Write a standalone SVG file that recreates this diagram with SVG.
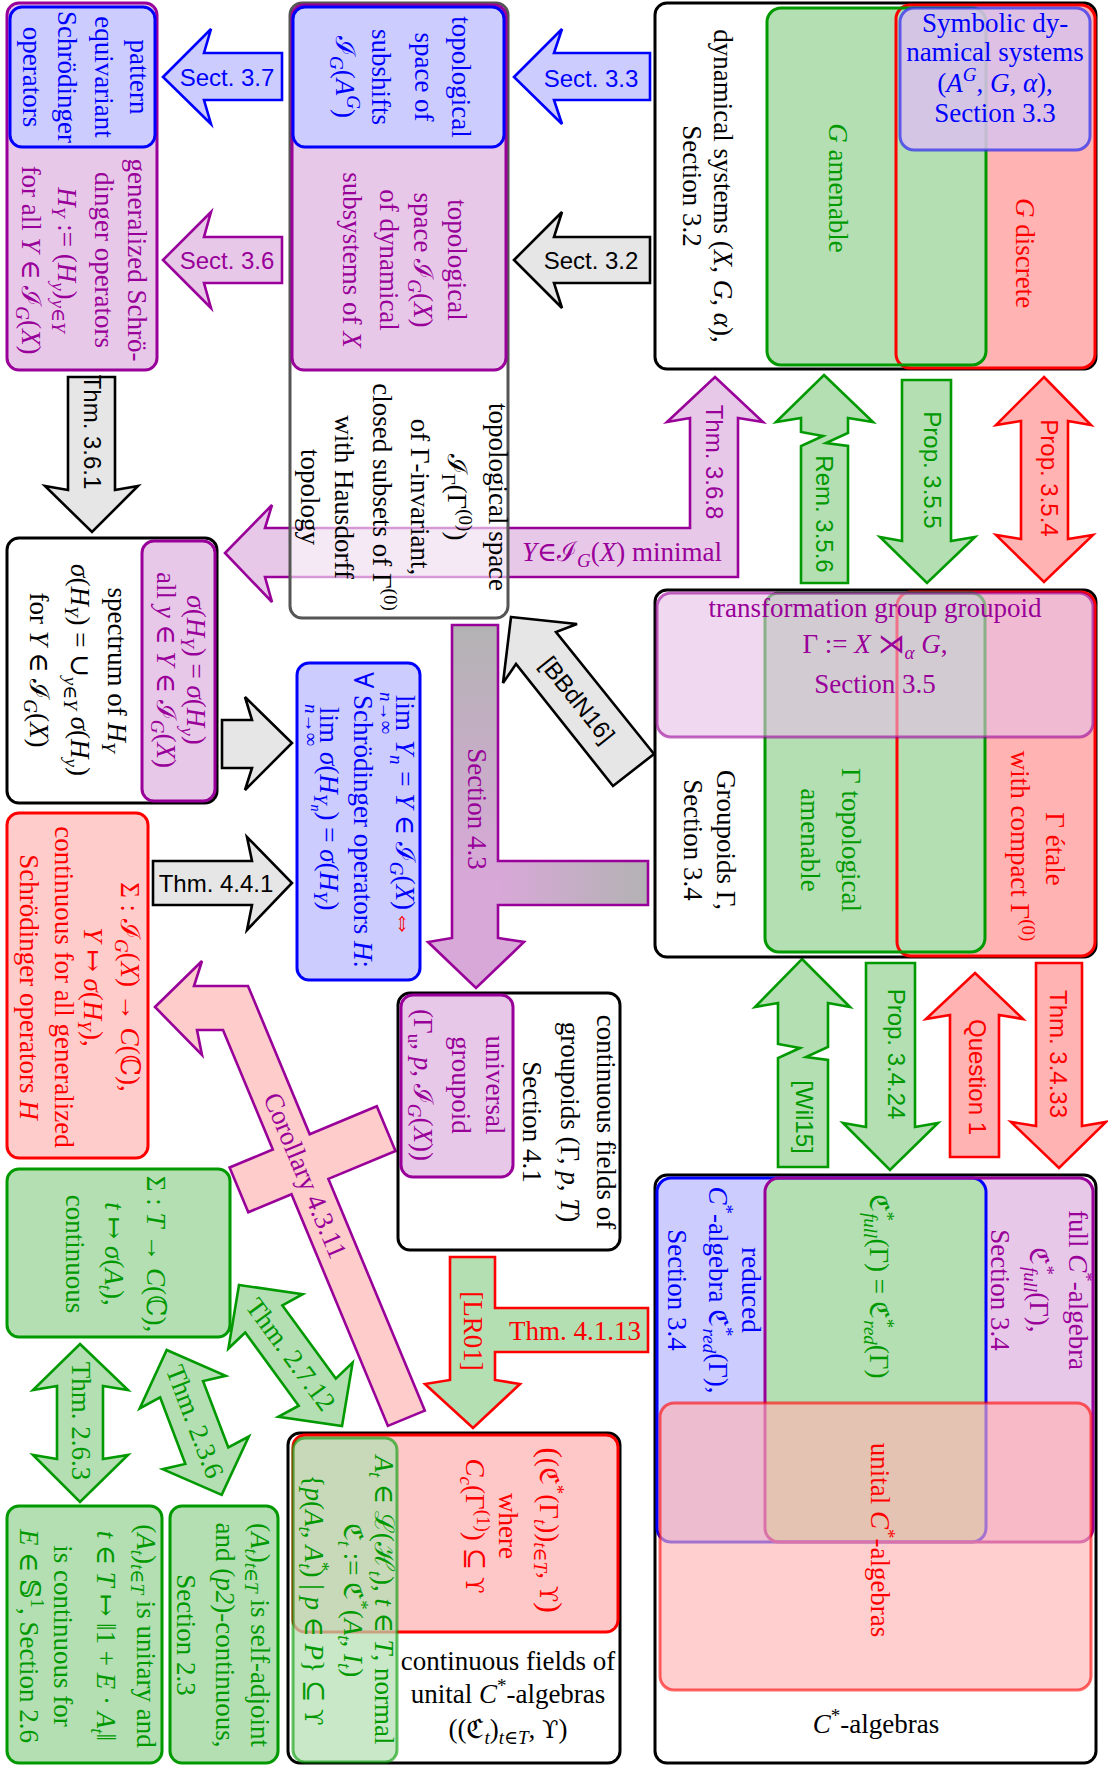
<svg xmlns="http://www.w3.org/2000/svg" width="1108" height="1767" viewBox="0 0 1108 1767">
<style>
text{font-family:"Liberation Serif","DejaVu Serif",serif;font-size:27px}
.ss{font-family:"Liberation Sans","DejaVu Sans",sans-serif;font-size:24px}
.c{text-anchor:middle}
.i{font-style:italic}
.s{font-size:19px}
.u{font-family:"DejaVu Serif",serif;font-size:24px}
.bl{fill:#0000ff}.pu{fill:#990099}.gr{fill:#009900}.rd{fill:#ff0000}
.kb{fill:#fff;stroke:#000;stroke-width:3}
.bb{fill:#ccccff;stroke:#0000ff;stroke-width:3}
.pb{fill:#e8c8e8;stroke:#990099;stroke-width:3}
.gb{fill:#b3dfb3;stroke:#009900;stroke-width:3}
.rl{fill:#ffcccc;stroke:#ff0000;stroke-width:3}
.ag{fill:#e6e6e6;stroke:#000;stroke-width:2.6}
.ab{fill:#ccccff;stroke:#0000ff;stroke-width:2.6}
.ap{fill:#e8c8e8;stroke:#990099;stroke-width:2.6}
.agr{fill:#b3dfb3;stroke:#009900;stroke-width:2.6}
.ar{fill:#ffb3b3;stroke:#ff0000;stroke-width:2.6}
</style>
<defs>
<linearGradient id="gv" gradientUnits="userSpaceOnUse" x1="0" y1="625" x2="0" y2="880"><stop offset="0" stop-color="#b3b3b3"/><stop offset="1" stop-color="#d8a8d8"/></linearGradient>
<linearGradient id="gh" gradientUnits="userSpaceOnUse" x1="498" y1="0" x2="648" y2="0"><stop offset="0" stop-color="#d8a8d8"/><stop offset="1" stop-color="#b3b3b3"/></linearGradient>
</defs>
<rect width="1108" height="1767" fill="#fff"/>

<g id="connectors">
<polygon class="ab" points="163,77 211,29 204,53 282,53 282,100 204,100 211,124"/>
<text class="ss c bl" x="227" y="86">Sect. 3.7</text>
<polygon class="ap" points="163,260 211,212 204,237 282,237 282,283 204,283 211,308"/>
<text class="ss c pu" x="227" y="269">Sect. 3.6</text>
<polygon class="ab" points="514,77 562,29 554,53 650,53 650,100 554,100 562,124"/>
<text class="ss c bl" x="591" y="87">Sect. 3.3</text>
<polygon class="ag" points="514,260 562,212 554,237 650,237 650,283 554,283 562,308"/>
<text class="ss c" x="591" y="269">Sect. 3.2</text>

<polygon class="ag" points="68,377 115,377 115,490 138,486 92,532 45,486 68,490"/>
<text class="ss c" transform="translate(84,432) rotate(90)">Thm. 3.6.1</text>

<polygon class="ap" points="715,377 763,422 738,418 738,577 265,577 272,602 225,553 272,505 265,528 690,528 690,418 667,422"/>
<text class="ss c pu" transform="translate(706,462) rotate(90)">Thm. 3.6.8</text>
<text class="c pu" x="622" y="561"><tspan class="i">Y</tspan>∈ℐ<tspan class="s i" dy="6">G</tspan><tspan dy="-6">(</tspan><tspan class="i">X</tspan>) minimal</text>

<polygon class="agr" points="824,375 873,422 848,418 848,433 826,443 848,446 848,583 801,583 801,446 823,436 801,432 801,418 776,422"/>
<text class="ss c gr" transform="translate(816,514) rotate(90)">Rem. 3.5.6</text>

<polygon class="agr" points="902,380 951,380 951,541 975,537 927,583 880,537 902,541"/>
<text class="ss c gr" transform="translate(924,470) rotate(90)">Prop. 3.5.5</text>

<polygon class="ar" points="1044,377 1091,425 1068,421 1068,539 1093,535 1044,582 996,535 1021,539 1021,421 996,425"/>
<text class="ss c rd" transform="translate(1041,478) rotate(90)">Prop. 3.5.4</text>

<polygon class="ag" points="222,720 252,720 245,697 292,743 245,790 252,768 222,768"/>

<polygon class="ag" points="153,861 252,861 247,837 292,883 247,930 252,905 153,905"/>
<text class="ss c" x="216" y="892">Thm. 4.4.1</text>

<polygon fill="url(#gv)" points="452,625 498,625 498,938 524,942 476,988 428,942 452,938"/>
<rect x="497" y="861" width="151" height="44" fill="url(#gh)"/>
<path d="M452,625 L498,625 L498,861 L648,861 L648,905 L498,905 L498,938 L524,942 L476,988 L428,942 L452,938 Z" fill="none" stroke="#990099" stroke-width="2.6"/>
<text class="c pu" transform="translate(468,809) rotate(90)">Section 4.3</text>

<polygon class="ag" points="511,617 577,624 556,632 654,754 613,786 516,664 503,683"/>
<text class="ss c" transform="translate(571,705) rotate(51.4)">[BBdN16]</text>

<polygon points="155,1007 202,961 194,986 248,986 309.7,1134.2 376.8,1106.3 395.5,1151 328.4,1178.9 424.8,1410.6 387.9,1425.9 291.5,1194.2 248.3,1212.2 229.6,1167.5 272.8,1149.5 223,1030 197,1030 202,1055" fill="#ffcccc" stroke="#990099" stroke-width="2.6"/>
<text class="c pu" transform="translate(297,1179) rotate(67.4)">Corollary 4.3.11</text>

<polygon class="agr" points="802,959 850,1007 828,1003 828,1047 806,1057 828,1060 828,1167 778,1167 778,1058 800,1048 778,1044 778,1003 755,1007"/>
<text class="ss c gr" transform="translate(796,1117) rotate(90)">[Wil15]</text>

<polygon class="agr" points="866,963 915,963 915,1127 938,1123 890,1170 843,1123 866,1127"/>
<text class="ss c gr" transform="translate(888,1054) rotate(90)">Prop. 3.4.24</text>

<polygon class="ar" points="975,973 1023,1019 999,1015 999,1157 950,1157 950,1015 926,1019"/>
<text class="ss c rd" transform="translate(969,1077) rotate(90)">Question 1</text>

<polygon class="ar" points="1036,963 1082,963 1082,1126 1106,1122 1059,1168 1011,1122 1036,1126"/>
<text class="ss c rd" transform="translate(1050,1054) rotate(90)">Thm. 3.4.33</text>

<polygon points="450,1257 495,1257 495,1308 648,1308 648,1352 495,1352 495,1380 520,1384 473,1428 425,1384 450,1380" fill="#b3dfb3" stroke="#ff0000" stroke-width="2.6"/>
<text class="c rd" transform="translate(464,1331) rotate(90)">[LR01]</text>
<text class="c rd" x="575" y="1340">Thm. 4.1.13</text>

<polygon class="agr" points="80,1344 128,1390 103,1386 103,1459 128,1455 80,1502 33,1455 57,1459 57,1386 33,1390"/>
<text class="c gr" transform="translate(72,1421) rotate(90)">Thm. 2.6.3</text>

<polygon class="agr" points="166.7,1350 225.7,1375.8 203.1,1381.1 228.3,1447.5 248.8,1436.5 221.7,1494.9 162.7,1469.2 185.3,1463.9 160.1,1397.4 139.7,1408.4"/>
<text class="c gr" transform="translate(186.5,1424.8) rotate(69.2)">Thm. 2.3.6</text>

<polygon class="agr" points="239,1285 302.7,1294.2 282.4,1305.4 335.8,1378.6 352.6,1362.6 342,1426.1 278.3,1416.8 298.7,1405.7 245.2,1332.5 228.4,1348.5"/>
<text class="c gr" transform="translate(283.5,1359.7) rotate(53.8)">Thm. 2.7.12</text>
</g>

<g id="n-schroedinger">
<rect x="7" y="3" width="150" height="367" rx="12" class="pb"/>
<rect x="10" y="7" width="145" height="140" rx="12" class="bb"/>
<text class="c bl" transform="translate(130,77) rotate(90)">pattern</text>
<text class="c bl" transform="translate(95,77) rotate(90)">equivariant</text>
<text class="c bl" transform="translate(58,77) rotate(90)">Schrödinger</text>
<text class="c bl" transform="translate(23,77) rotate(90)">operators</text>
<text class="c pu" transform="translate(128,260) rotate(90)">generalized Schrö-</text>
<text class="c pu" transform="translate(95,260) rotate(90)">dinger operators</text>
<text class="c pu" transform="translate(58,260) rotate(90)"><tspan class="i">H</tspan><tspan class="s i" dy="6">Y</tspan><tspan dy="-6"> := (</tspan><tspan class="i">H</tspan><tspan class="s i" dy="6">y</tspan><tspan dy="-6">)</tspan><tspan class="s" dy="6"><tspan class="i">y</tspan>∈<tspan class="i">Y</tspan></tspan></text>
<text class="c pu" transform="translate(22,260) rotate(90)">for all <tspan class="i">Y</tspan> ∈ ℐ<tspan class="s i" dy="6">G</tspan><tspan dy="-6">(</tspan><tspan class="i">X</tspan>)</text>
</g>

<g id="n-subsystems">
<rect x="290" y="3" width="218" height="615" rx="12" fill="#fff" fill-opacity="0.6" stroke="#555" stroke-width="3"/>
<rect x="292" y="5" width="214" height="365" rx="12" class="pb"/>
<rect x="293" y="7" width="211" height="140" rx="12" class="bb"/>
<text class="c bl" transform="translate(452,77) rotate(90)">topological</text>
<text class="c bl" transform="translate(415,77) rotate(90)">space of</text>
<text class="c bl" transform="translate(372,77) rotate(90)">subshifts</text>
<text class="c bl" transform="translate(336,77) rotate(90)">ℐ<tspan class="s i" dy="6">G</tspan><tspan dy="-6">(</tspan><tspan class="i">A</tspan><tspan class="s i" dy="-11">G</tspan><tspan dy="11">)</tspan></text>
<text class="c pu" transform="translate(448,260) rotate(90)">topological</text>
<text class="c pu" transform="translate(414,260) rotate(90)">space ℐ<tspan class="s i" dy="6">G</tspan><tspan dy="-6">(</tspan><tspan class="i">X</tspan>)</text>
<text class="c pu" transform="translate(380,260) rotate(90)">of dynamical</text>
<text class="c pu" transform="translate(343,260) rotate(90)">subsystems of <tspan class="i">X</tspan></text>
<text class="c" transform="translate(489,497) rotate(90)">topological space</text>
<text class="c" transform="translate(448,497) rotate(90)">ℐ<tspan class="s" dy="6">Γ</tspan><tspan dy="-6">(Γ</tspan><tspan class="s" dy="-11">(0)</tspan><tspan dy="11">)</tspan></text>
<text class="c" transform="translate(411,497) rotate(90)">of Γ-invariant,</text>
<text class="c" transform="translate(373,497) rotate(90)">closed subsets of Γ<tspan class="s" dy="-11">(0)</tspan></text>
<text class="c" transform="translate(335,497) rotate(90)">with Hausdorff</text>
<text class="c" transform="translate(301,497) rotate(90)">topology</text>
</g>

<g id="n-dynamical">
<rect x="655" y="3" width="441" height="366" rx="12" class="kb"/>
<rect x="896" y="5" width="199" height="363" rx="14" fill="#ffb3b3"/>
<rect x="767" y="8" width="219" height="357" rx="14" fill="#b3dfb3"/>
<rect x="896" y="5" width="199" height="363" rx="14" fill="none" stroke="#ff0000" stroke-width="3"/>
<rect x="767" y="8" width="219" height="357" rx="14" fill="none" stroke="#009900" stroke-width="3"/>
<rect x="900" y="8" width="190" height="142" rx="14" fill="#d9c2ea" fill-opacity="0.88" stroke="#3333ee" stroke-opacity="0.75" stroke-width="3"/>
<text class="c" transform="translate(714,186) rotate(90)">dynamical systems (<tspan class="i">X</tspan>, <tspan class="i">G</tspan>, <tspan class="i">α</tspan>),</text>
<text class="c" transform="translate(683,186) rotate(90)">Section 3.2</text>
<text class="c gr" transform="translate(829,188) rotate(90)"><tspan class="i">G</tspan> amenable</text>
<text class="c rd" transform="translate(1016,253) rotate(90)"><tspan class="i">G</tspan> discrete</text>
<text class="c bl" x="995" y="32">Symbolic dy-</text>
<text class="c bl" x="995" y="61">namical systems</text>
<text class="c bl" x="995" y="92">(<tspan class="i">A</tspan><tspan class="s i" dy="-11">G</tspan><tspan dy="11">, </tspan><tspan class="i">G</tspan>, <tspan class="i">α</tspan>),</text>
<text class="c bl" x="995" y="122">Section 3.3</text>
</g>

<g id="n-spectrum">
<rect x="7" y="538" width="210" height="265" rx="12" class="kb"/>
<rect x="142" y="541" width="73" height="260" rx="12" class="pb"/>
<text class="c pu" transform="translate(187,670) rotate(90)"><tspan class="i">σ</tspan>(<tspan class="i">H</tspan><tspan class="s i" dy="6">Y</tspan><tspan dy="-6">) = </tspan><tspan class="i">σ</tspan>(<tspan class="i">H</tspan><tspan class="s i" dy="6">y</tspan><tspan dy="-6">)</tspan></text>
<text class="c pu" transform="translate(157,670) rotate(90)">all <tspan class="i">y</tspan> ∈ <tspan class="i">Y</tspan> ∈ ℐ<tspan class="s i" dy="6">G</tspan><tspan dy="-6">(</tspan><tspan class="i">X</tspan>)</text>
<text class="c" transform="translate(108,670) rotate(90)">spectrum of <tspan class="i">H</tspan><tspan class="s i" dy="6">Y</tspan></text>
<text class="c" transform="translate(71,670) rotate(90)"><tspan class="i">σ</tspan>(<tspan class="i">H</tspan><tspan class="s i" dy="6">Y</tspan><tspan dy="-6">) = ∪</tspan><tspan class="s" dy="7"><tspan class="i">y</tspan>∈<tspan class="i">Y</tspan></tspan><tspan dy="-7"> </tspan><tspan class="i">σ</tspan>(<tspan class="i">H</tspan><tspan class="s i" dy="6">y</tspan><tspan dy="-6">)</tspan></text>
<text class="c" transform="translate(30,670) rotate(90)">for <tspan class="i">Y</tspan> ∈ ℐ<tspan class="s i" dy="6">G</tspan><tspan dy="-6">(</tspan><tspan class="i">X</tspan>)</text>
</g>

<g id="n-groupoids">
<rect x="655" y="590" width="441" height="367" rx="12" class="kb"/>
<rect x="897" y="592" width="198" height="364" rx="14" fill="#ffb3b3"/>
<rect x="765" y="593" width="220" height="359" rx="14" fill="#b3dfb3"/>
<rect x="897" y="592" width="198" height="364" rx="14" fill="none" stroke="#ff0000" stroke-width="3"/>
<rect x="765" y="593" width="220" height="359" rx="14" fill="none" stroke="#009900" stroke-width="3"/>
<rect x="657" y="593" width="436" height="144" rx="14" fill="#e6bfe6" fill-opacity="0.6" stroke="#990099" stroke-opacity="0.6" stroke-width="3"/>
<text class="c pu" x="875" y="617">transformation group groupoid</text>
<text class="c pu" x="875" y="653">Γ := <tspan class="i">X</tspan> ⋊<tspan class="s i" dy="6">α</tspan><tspan dy="-6"> </tspan><tspan class="i">G</tspan>,</text>
<text class="c pu" x="875" y="693">Section 3.5</text>
<text class="c" transform="translate(717,840) rotate(90)">Groupoids Γ,</text>
<text class="c" transform="translate(684,840) rotate(90)">Section 3.4</text>
<text class="c gr" transform="translate(842,840) rotate(90)">Γ topological</text>
<text class="c gr" transform="translate(801,840) rotate(90)">amenable</text>
<text class="c rd" transform="translate(1046,849) rotate(90)">Γ étale</text>
<text class="c rd" transform="translate(1011,846) rotate(90)">with compact Γ<tspan class="s" dy="-11">(0)</tspan></text>
</g>

<g id="n-limits">
<rect x="297" y="663" width="123" height="317" rx="12" class="bb"/>
<text class="bl" transform="translate(396,695) rotate(90)">lim</text>
<text class="c bl s" transform="translate(380,713) rotate(90)"><tspan class="i">n</tspan>→∞</text>
<text class="bl" transform="translate(396,740) rotate(90)"><tspan class="i">Y</tspan><tspan class="s i" dy="6">n</tspan><tspan dy="-6"> = </tspan><tspan class="i">Y</tspan> ∈ ℐ<tspan class="s i" dy="6">G</tspan><tspan dy="-6">(</tspan><tspan class="i">X</tspan>)<tspan class="rd">⇔</tspan></text>
<text class="c bl" transform="translate(354,820) rotate(90)">∀ Schrödinger operators <tspan class="i">H</tspan>:</text>
<text class="bl" transform="translate(320,707) rotate(90)">lim</text>
<text class="c bl s" transform="translate(305,725) rotate(90)"><tspan class="i">n</tspan>→∞</text>
<text class="bl" transform="translate(320,752) rotate(90)"><tspan class="i">σ</tspan>(<tspan class="i">H</tspan><tspan class="s i" dy="6">Y</tspan><tspan class="i" dy="3" style="font-size:14px">n</tspan><tspan dy="-9">) = </tspan><tspan class="i">σ</tspan>(<tspan class="i">H</tspan><tspan class="s i" dy="6">Y</tspan><tspan dy="-6">)</tspan></text>
</g>

<g id="n-fields-groupoids">
<rect x="398" y="993" width="222" height="257" rx="12" class="kb"/>
<rect x="401" y="995" width="112" height="182" rx="12" class="pb"/>
<text class="c" transform="translate(597,1122) rotate(90)">continuous fields of</text>
<text class="c" transform="translate(561,1122) rotate(90)">groupoids (Γ, <tspan class="i">p</tspan>, <tspan class="i">T</tspan>)</text>
<text class="c" transform="translate(523,1122) rotate(90)">Section 4.1</text>
<text class="c pu" transform="translate(486,1085) rotate(90)">universal</text>
<text class="c pu" transform="translate(452,1085) rotate(90)">groupoid</text>
<text class="c pu" transform="translate(414,1085) rotate(90)">(Γ<tspan class="s" dy="6">u</tspan><tspan dy="-6">, </tspan><tspan class="i">p</tspan>, ℐ<tspan class="s i" dy="6">G</tspan><tspan dy="-6">(</tspan><tspan class="i">X</tspan>))</text>
</g>

<g id="n-sigma-map">
<rect x="7" y="813" width="141" height="345" rx="12" class="rl"/>
<text class="c rd" transform="translate(121,987) rotate(90)">Σ : ℐ<tspan class="s i" dy="6">G</tspan><tspan dy="-6">(</tspan><tspan class="i">X</tspan>) → <tspan class="i">C</tspan>(ℂ),</text>
<text class="c rd" transform="translate(84,987) rotate(90)"><tspan class="i">Y</tspan> ↦ <tspan class="i">σ</tspan>(<tspan class="i">H</tspan><tspan class="s i" dy="6">Y</tspan><tspan dy="-6">),</tspan></text>
<text class="c rd" transform="translate(55,987) rotate(90)">continuous for all generalized</text>
<text class="c rd" transform="translate(20,987) rotate(90)">Schrödinger operators <tspan class="i">H</tspan></text>
</g>

<g id="n-sigma-t">
<rect x="7" y="1169" width="223" height="168" rx="12" class="gb"/>
<text class="c gr" transform="translate(147,1254) rotate(90)">Σ : <tspan class="i">T</tspan> → <tspan class="i">C</tspan>(ℂ),</text>
<text class="c gr" transform="translate(105,1254) rotate(90)"><tspan class="i">t</tspan> ↦ <tspan class="i">σ</tspan>(<tspan class="i">A</tspan><tspan class="s i" dy="6">t</tspan><tspan dy="-6">),</tspan></text>
<text class="c gr" transform="translate(66,1254) rotate(90)">continuous</text>
</g>

<g id="n-fields-algebras">
<rect x="288" y="1433" width="332" height="330" rx="12" class="kb"/>
<rect x="293" y="1435" width="325" height="197" rx="12" fill="#ffc8c8" stroke="#ff0000" stroke-width="3"/>
<rect x="293" y="1438" width="104" height="324" rx="12" fill="#b3dfb3" fill-opacity="0.72" stroke="#009900" stroke-opacity="0.6" stroke-width="3"/>
<text class="c rd" transform="translate(540,1530) rotate(90)"><tspan style="font-size:32px">(</tspan>(ℭ<tspan class="s" dy="-11">*</tspan><tspan dy="11">(Γ</tspan><tspan class="s i" dy="6">t</tspan><tspan dy="-6">))</tspan><tspan class="s" dy="6"><tspan class="i">t</tspan>∈<tspan class="i">T</tspan></tspan><tspan dy="-6">, </tspan><tspan class="u">ϒ</tspan><tspan style="font-size:32px">)</tspan></text>
<text class="c rd" transform="translate(499,1526) rotate(90)">where</text>
<text class="c rd" transform="translate(466,1526) rotate(90)"><tspan class="i">C</tspan><tspan class="s i" dy="6">c</tspan><tspan dy="-6">(Γ</tspan><tspan class="s" dy="-11">(1)</tspan><tspan dy="11">) ⊆ </tspan><tspan class="u">ϒ</tspan></text>
<text class="c gr" transform="translate(375,1600) rotate(90)"><tspan class="i">A</tspan><tspan class="s i" dy="6">t</tspan><tspan dy="-6"> ∈ ℒ(ℋ</tspan><tspan class="s i" dy="6">t</tspan><tspan dy="-6">), </tspan><tspan class="i">t</tspan> ∈ <tspan class="i">T</tspan>, normal</text>
<text class="c gr" transform="translate(344,1600) rotate(90)">ℭ<tspan class="s i" dy="6">t</tspan><tspan dy="-6"> := ℭ</tspan><tspan class="s" dy="-11">*</tspan><tspan dy="11">(</tspan><tspan class="i">A</tspan><tspan class="s i" dy="6">t</tspan><tspan dy="-6">, </tspan><tspan class="i">I</tspan><tspan class="s i" dy="6">t</tspan><tspan dy="-6">)</tspan></text>
<text class="c gr" transform="translate(305,1600) rotate(90)">{<tspan class="i">p</tspan>(<tspan class="i">A</tspan><tspan class="s i" dy="6">t</tspan><tspan dy="-6">, </tspan><tspan class="i">A</tspan><tspan class="s" dy="-11">*</tspan><tspan class="s i" dy="17" dx="-8">t</tspan><tspan dy="-6">) | </tspan><tspan class="i">p</tspan> ∈ <tspan class="i">P</tspan>} ⊆ <tspan class="u">ϒ</tspan></text>
<text class="c" x="508" y="1670">continuous fields of</text>
<text class="c" x="508" y="1703">unital <tspan class="i">C</tspan><tspan class="s" dy="-11">*</tspan><tspan dy="11">-algebras</tspan></text>
<text class="c" x="508" y="1738">((ℭ<tspan class="s i" dy="6">t</tspan><tspan dy="-6">)</tspan><tspan class="s" dy="6"><tspan class="i">t</tspan>∈<tspan class="i">T</tspan></tspan><tspan dy="-6">, </tspan><tspan class="u">ϒ</tspan>)</text>
</g>

<g id="n-cstar">
<rect x="655" y="1175" width="441" height="588" rx="12" class="kb"/>
<rect x="657" y="1178" width="329" height="364" rx="14" fill="#ccccff"/>
<rect x="765" y="1178" width="328" height="364" rx="14" fill="#e8c8e8"/>
<rect x="765" y="1178" width="221" height="364" rx="14" fill="#b3dfb3"/>
<rect x="657" y="1178" width="329" height="364" rx="14" fill="none" stroke="#0000ff" stroke-width="3"/>
<rect x="765" y="1178" width="328" height="364" rx="14" fill="none" stroke="#990099" stroke-width="3"/>
<rect x="660" y="1403" width="431" height="287" rx="14" fill="#ffb3b3" fill-opacity="0.64" stroke="#ff0000" stroke-opacity="0.6" stroke-width="3"/>
<text class="c bl" transform="translate(742,1290) rotate(90)">reduced</text>
<text class="c bl" transform="translate(709,1290) rotate(90)"><tspan class="i">C</tspan><tspan class="s" dy="-11">*</tspan><tspan dy="11">-algebra ℭ</tspan><tspan class="s" dy="-11">*</tspan><tspan class="s i" dy="17" dx="-8">red</tspan><tspan dy="-6">(Γ),</tspan></text>
<text class="c bl" transform="translate(668,1290) rotate(90)">Section 3.4</text>
<text class="c pu" transform="translate(1069,1290) rotate(90)">full <tspan class="i">C</tspan><tspan class="s" dy="-11">*</tspan><tspan dy="11">-algebra</tspan></text>
<text class="c pu" transform="translate(1030,1290) rotate(90)">ℭ<tspan class="s" dy="-11">*</tspan><tspan class="s i" dy="17" dx="-8">full</tspan><tspan dy="-6">(Γ),</tspan></text>
<text class="c pu" transform="translate(991,1290) rotate(90)">Section 3.4</text>
<text class="c gr" transform="translate(870,1286) rotate(90)">ℭ<tspan class="s" dy="-11">*</tspan><tspan class="s i" dy="17" dx="-8">full</tspan><tspan dy="-6">(Γ) = ℭ</tspan><tspan class="s" dy="-11">*</tspan><tspan class="s i" dy="17" dx="-8">red</tspan><tspan dy="-6">(Γ)</tspan></text>
<text class="c rd" transform="translate(871,1540) rotate(90)">unital <tspan class="i">C</tspan><tspan class="s" dy="-11">*</tspan><tspan dy="11">-algebras</tspan></text>
<text class="c" x="876" y="1733"><tspan class="i">C</tspan><tspan class="s" dy="-11">*</tspan><tspan dy="11">-algebras</tspan></text>
</g>

<g id="n-unitary">
<rect x="7" y="1506" width="155" height="257" rx="12" class="gb"/>
<text class="c gr" transform="translate(137,1636) rotate(90)">(<tspan class="i">A</tspan><tspan class="s i" dy="6">t</tspan><tspan dy="-6">)</tspan><tspan class="s" dy="6"><tspan class="i">t</tspan>∈<tspan class="i">T</tspan></tspan><tspan dy="-6"> is unitary and</tspan></text>
<text class="c gr" transform="translate(97,1636) rotate(90)"><tspan class="i">t</tspan> ∈ <tspan class="i">T</tspan> ↦ ‖1 + <tspan class="i">E</tspan> · <tspan class="i">A</tspan><tspan class="s i" dy="6">t</tspan><tspan dy="-6">‖</tspan></text>
<text class="c gr" transform="translate(54,1636) rotate(90)">is continuous for</text>
<text class="c gr" transform="translate(20,1636) rotate(90)"><tspan class="i">E</tspan> ∈ 𝕊<tspan class="s" dy="-11">1</tspan><tspan dy="11">, Section 2.6</tspan></text>
</g>

<g id="n-selfadjoint">
<rect x="170" y="1506" width="108" height="257" rx="12" class="gb"/>
<text class="c gr" transform="translate(251,1635) rotate(90)">(<tspan class="i">A</tspan><tspan class="s i" dy="6">t</tspan><tspan dy="-6">)</tspan><tspan class="s" dy="6"><tspan class="i">t</tspan>∈<tspan class="i">T</tspan></tspan><tspan dy="-6"> is self-adjoint</tspan></text>
<text class="c gr" transform="translate(216,1635) rotate(90)">and (<tspan class="i">p2</tspan>)-continuous,</text>
<text class="c gr" transform="translate(177,1635) rotate(90)">Section 2.3</text>
</g>
</svg>
